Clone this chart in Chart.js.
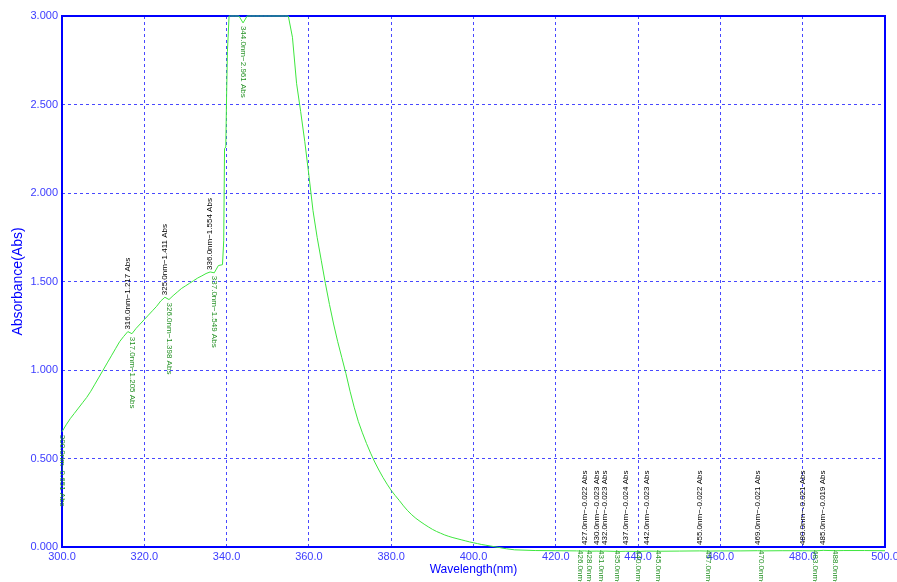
<!DOCTYPE html>
<html>
<head>
<meta charset="utf-8">
<script src="https://cdn.jsdelivr.net/npm/chart.js@4.4.1/dist/chart.umd.min.js"></script>
<style>
  html, body { margin: 0; padding: 0; background: #fff; }
  canvas { display: block; }
</style>
</head>
<body>
<canvas id="spectrum" width="897" height="582"></canvas>
<script>
// Spektrum verisi (nm / Abs)
const wavelengths = [
  300, 301, 302, 303, 304, 305, 306, 307, 308, 309,
  310, 311, 312, 313, 314, 315, 316, 317, 318, 319,
  320, 321, 322, 323, 324, 325, 326, 327, 328, 329,
  330, 331, 332, 333, 334, 335, 336, 337, 338, 339,
  339.3, 339.5, 339.8, 340, 340.2, 340.6,
  341, 342, 343, 344, 345, 346, 347, 348, 349, 350,
  351, 352, 353, 354, 355,
  356, 357, 358, 359, 360, 361, 362, 363, 364, 365,
  366, 367, 368, 369, 370, 371, 372, 373, 374, 375,
  376, 377, 378, 379, 380, 381, 382, 383, 384, 385,
  386, 387, 388, 389, 390, 391, 392, 393, 394, 395,
  396, 397, 398, 399, 400, 401, 402, 403, 404, 405,
  406, 408, 410, 415, 420, 425, 426, 427, 428, 430,
  431, 432, 435, 437, 440, 442, 445, 450, 455, 457,
  460, 465, 469, 470, 475, 480, 483, 485, 488, 490,
  495, 500
];
const absorbance = [
  0.651, 0.69, 0.725, 0.755, 0.785, 0.815, 0.845, 0.88, 0.92, 0.96,
  1.00, 1.04, 1.08, 1.12, 1.16, 1.19, 1.217, 1.205, 1.235, 1.26,
  1.285, 1.31, 1.335, 1.36, 1.39, 1.411, 1.398, 1.42, 1.44, 1.46,
  1.475, 1.49, 1.505, 1.52, 1.532, 1.545, 1.554, 1.549, 1.59, 1.595,
  1.73, 2.25, 2.26, 2.55, 2.8, 3.0,
  3.0, 3.0, 3.0, 2.961, 3.0, 3.0, 3.0, 3.0, 3.0, 3.0,
  3.0, 3.0, 3.0, 3.0, 3.0,
  2.88, 2.62, 2.46, 2.29, 2.10, 1.90, 1.75, 1.62, 1.49, 1.37,
  1.26, 1.16, 1.07, 0.98, 0.88, 0.79, 0.71, 0.645, 0.585, 0.53,
  0.48, 0.435, 0.393, 0.355, 0.32, 0.29, 0.262, 0.232, 0.205, 0.182,
  0.162, 0.145, 0.129, 0.114, 0.10, 0.088, 0.078, 0.068, 0.06, 0.053,
  0.047, 0.041, 0.035, 0.029, 0.024, 0.019, 0.014, 0.01, 0.006, 0.002,
  -0.002, -0.01, -0.016, -0.02, -0.021, -0.022, -0.023, -0.022, -0.024, -0.023,
  -0.024, -0.023, -0.025, -0.024, -0.025, -0.023, -0.024, -0.023, -0.022, -0.023,
  -0.022, -0.022, -0.021, -0.022, -0.021, -0.021, -0.022, -0.019, -0.021, -0.02,
  -0.02, -0.021
];

// Tepe (peak) ve çukur (valley) işaretleri
const peakWl = [316, 325, 336, 427, 430, 432, 437, 442, 455, 469, 480, 485];
const peakAbs = [1.217, 1.411, 1.554, -0.022, -0.023, -0.023, -0.024, -0.023, -0.022, -0.021, -0.021, -0.019];
const valleyWl = [300, 317, 326, 337, 344, 426, 428, 431, 435, 440, 445, 457, 470, 483, 488];
const valleyAbs = [0.651, 1.205, 1.398, 1.549, 2.961, -0.023, -0.024, -0.024, -0.025, -0.025, -0.024, -0.023, -0.022, -0.022, -0.021];

// Eksen etiketleri
const xTicks = [300, 320, 340, 360, 380, 400, 420, 440, 460, 480, 500];
const yTicks = [0, 0.5, 1.0, 1.5, 2.0, 2.5, 3.0];

const BLUE = '#0000ff';
const TICK_BLUE = '#3c3cff';
const GRID_BLUE = '#4848ff';
const FONT = '"Liberation Sans", Arial, sans-serif';

// Çerçeve (dört kenar)
const frame = {
    id: 'frame',
    beforeDatasetsDraw(chart) {
        const { ctx, chartArea: a } = chart;
        ctx.save();
        ctx.strokeStyle = BLUE;
        ctx.lineWidth = 2;
        ctx.strokeRect(a.left, a.top, a.right - a.left, a.bottom - a.top);
        ctx.restore();
    }
};

// Dikey yazılan tepe / çukur etiketleri
const markLabels = {
    id: 'markLabels',
    afterDraw(chart) {
        const { ctx, chartArea: a, scales: { x, y } } = chart;
        const text = (wl, v) => wl.toFixed(1) + 'nm\u2212' + v.toFixed(3) + ' Abs';
        ctx.save();
        ctx.font = '8px ' + FONT;
        ctx.textAlign = 'left';
        ctx.textBaseline = 'middle';

        ctx.fillStyle = '#000000';
        peakWl.forEach((wl, i) => {
            const px = x.getPixelForValue(wl);
            const py = Math.min(y.getPixelForValue(peakAbs[i]), a.bottom);
            ctx.save();
            ctx.translate(px, py - 2);
            ctx.rotate(-Math.PI / 2);
            ctx.fillText(text(wl, peakAbs[i]), 0, 0);
            ctx.restore();
        });

        ctx.fillStyle = '#229022';
        valleyWl.forEach((wl, i) => {
            const px = x.getPixelForValue(wl);
            const py = Math.min(y.getPixelForValue(valleyAbs[i]), a.bottom);
            ctx.save();
            ctx.translate(px, py + 3);
            ctx.rotate(Math.PI / 2);
            ctx.fillText(text(wl, valleyAbs[i]), 0, 0);
            ctx.restore();
        });
        ctx.restore();
    }
};

const ctx = document.getElementById('spectrum').getContext('2d');

new Chart(ctx, {
    type: 'line',
    data: {
        datasets: [{
            data: wavelengths.map((w, i) => ({ x: w, y: absorbance[i] })),
            borderColor: '#3ee63e',
            borderWidth: 1,
            pointRadius: 0,
            tension: 0,
            clip: false
        }]
    },
    options: {
        responsive: false,
        animation: false,
        layout: { padding: { top: 16, right: 12, left: 0, bottom: 0 } },
        plugins: {
            legend: { display: false },
            tooltip: { enabled: false }
        },
        scales: {
            x: {
                type: 'linear',
                min: 300,
                max: 500,
                afterBuildTicks: s => { s.ticks = xTicks.map(v => ({ value: v })); },
                afterFit: s => { s.height = 35; s.paddingLeft = 0; s.paddingRight = 0; },
                ticks: {
                    autoSkip: false,
                    maxRotation: 0,
                    padding: 3,
                    color: TICK_BLUE,
                    font: { family: FONT, size: 11 },
                    callback: v => Number(v).toFixed(1)
                },
                grid: { color: GRID_BLUE, lineWidth: 1, drawTicks: false },
                border: { display: false, dash: [3, 3] },
                title: {
                    display: true,
                    text: 'Wavelength(nm)',
                    color: BLUE,
                    font: { family: FONT, size: 12 },
                    padding: { top: 0, bottom: 5 }
                }
            },
            y: {
                min: 0,
                max: 3,
                afterBuildTicks: s => { s.ticks = yTicks.map(v => ({ value: v })); },
                afterFit: s => { s.width = 62; s.paddingTop = 0; s.paddingBottom = 0; },
                ticks: {
                    autoSkip: false,
                    padding: 4,
                    color: TICK_BLUE,
                    font: { family: FONT, size: 11 },
                    callback: v => Number(v).toFixed(3)
                },
                grid: { color: GRID_BLUE, lineWidth: 1, drawTicks: false },
                border: { display: false, dash: [3, 3] },
                title: {
                    display: true,
                    text: 'Absorbance(Abs)',
                    color: BLUE,
                    font: { family: FONT, size: 14 },
                    padding: { top: 10, bottom: 0 }
                }
            }
        }
    },
    plugins: [frame, markLabels]
});
</script>
</body>
</html>
